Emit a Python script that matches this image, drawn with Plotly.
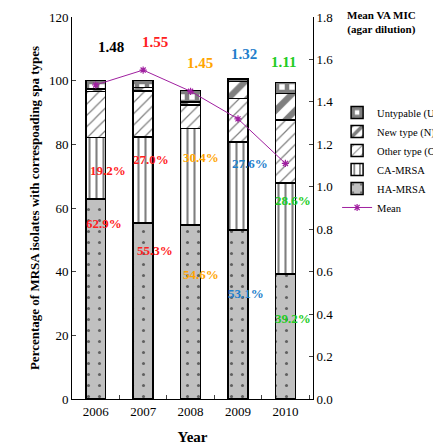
import plotly.graph_objects as go

years = ["2006", "2007", "2008", "2009", "2010"]
ha_mrsa = [62.9, 55.3, 54.6, 53.1, 39.2]
ca_mrsa = [19.2, 27.0, 30.4, 27.6, 28.6]
other_type = [14.5, 14.4, 7.3, 13.7, 19.8]
new_type = [0.8, 1.2, 1.0, 5.3, 8.4]
untypable = [2.6, 2.1, 3.6, 0.9, 3.5]
mean_mic = [1.48, 1.55, 1.45, 1.32, 1.11]
label_colors = ["#ff2020", "#ff2020", "#ffa500", "#1f7fcc", "#22cc22"]

# label placement (layout only)
mean_lbl_dx = [0.32, 0.26, 0.19, 0.12, -0.05]
mean_lbl_y = [110.7, 112.3, 105.5, 108.4, 105.8]
ca_lbl_dx = [0.25, 0.16, 0.23, 0.25, 0.16]
ca_lbl_y = [71.7, 75.3, 75.9, 74.0, 62.3]
ha_lbl_dx = [0.18, 0.26, 0.23, 0.16, 0.16]
ha_lbl_y = [55.2, 46.8, 39.0, 33.0, 25.4]

FONT = "Liberation Serif"
W = 0.42

fig = go.Figure()

def bar(name, vals, color, shape, size, solidity, rank):
    fig.add_trace(go.Bar(
        x=years, y=vals, name=name, width=W, legendrank=rank,
        marker=dict(color=color, line=dict(color="black", width=1.5),
                    pattern=dict(shape=shape, fgcolor="black", bgcolor=color,
                                 size=size, solidity=solidity)),
    ))

bar("HA-MRSA", ha_mrsa, "#c0c0c0", ".", 11, 0.06, 5)
bar("CA-MRSA", ca_mrsa, "white", "|", 7, 0.3, 4)
bar("Other type (O)", other_type, "white", "/", 8, 0.15, 3)
bar("New type (N)", new_type, "white", "/", 14, 0.45, 2)
bar("Untypable (U)", untypable, "white", "+", 10, 0.7, 1)

fig.add_trace(go.Scatter(
    x=years, y=mean_mic, name="Mean", yaxis="y2", mode="lines+markers",
    line=dict(color="#a020a0", width=1), legendrank=6,
    marker=dict(symbol="asterisk-open", size=6, color="#a020a0",
                line=dict(color="#a020a0", width=1.2)),
))

ann = []
for i in range(5):
    ann.append(dict(x=i + mean_lbl_dx[i], y=mean_lbl_y[i], xref="x", yref="y",
                    text="<b>%.2f</b>" % mean_mic[i], showarrow=False,
                    font=dict(family=FONT, size=15,
                              color="black" if i == 0 else label_colors[i])))
    ann.append(dict(x=i + ca_lbl_dx[i], y=ca_lbl_y[i], xref="x", yref="y",
                    text="<b>%.1f%%</b>" % ca_mrsa[i], showarrow=False,
                    font=dict(family=FONT, size=13, color=label_colors[i])))
    ann.append(dict(x=i + ha_lbl_dx[i], y=ha_lbl_y[i], xref="x", yref="y",
                    text="<b>%.1f%%</b>" % ha_mrsa[i], showarrow=False,
                    font=dict(family=FONT, size=13, color=label_colors[i])))

ann.append(dict(x=1.285, y=1.025, xref="paper", yref="paper", xanchor="center",
                yanchor="top", showarrow=False, align="center",
                text="<b>Mean VA MIC</b><br><b>(agar dilution)</b>",
                font=dict(family=FONT, size=11, color="black")))

fig.update_layout(
    width=433, height=438,
    margin=dict(l=64, r=128, t=9, b=47, autoexpand=False),
    paper_bgcolor="white", plot_bgcolor="white",
    barmode="stack", bargap=0.58,
    font=dict(family=FONT, size=13, color="black"),
    showlegend=True,
    legend=dict(x=1.10, y=0.788, xanchor="left", yanchor="top",
                traceorder="normal",
                font=dict(family=FONT, size=10.5), itemwidth=30,
                tracegroupgap=0, bgcolor="rgba(0,0,0,0)"),
    xaxis=dict(type="category", showline=True, linecolor="black", linewidth=1,
               ticks="inside", tickson="boundaries", ticklen=4,
               tickfont=dict(family=FONT, size=13),
               title=dict(text="<b>Year</b>", font=dict(family=FONT, size=15),
                          standoff=13)),
    yaxis=dict(range=[0, 120], dtick=20, showline=True, linecolor="black",
               linewidth=1, ticks="inside", ticklen=4, showgrid=False,
               zeroline=False, tickfont=dict(family=FONT, size=13),
               title=dict(text="<b>Percentage of MRSA isolates with correspoading spa types</b>",
                          font=dict(family=FONT, size=13), standoff=6)),
    yaxis2=dict(range=[0, 1.8], dtick=0.2, tickformat=".1f", overlaying="y",
                side="right", showline=True, linecolor="black", linewidth=1,
                ticks="inside", ticklen=4, showgrid=False, zeroline=False,
                tickfont=dict(family=FONT, size=13)),
    annotations=ann,
)

fig.write_html("out.html")
